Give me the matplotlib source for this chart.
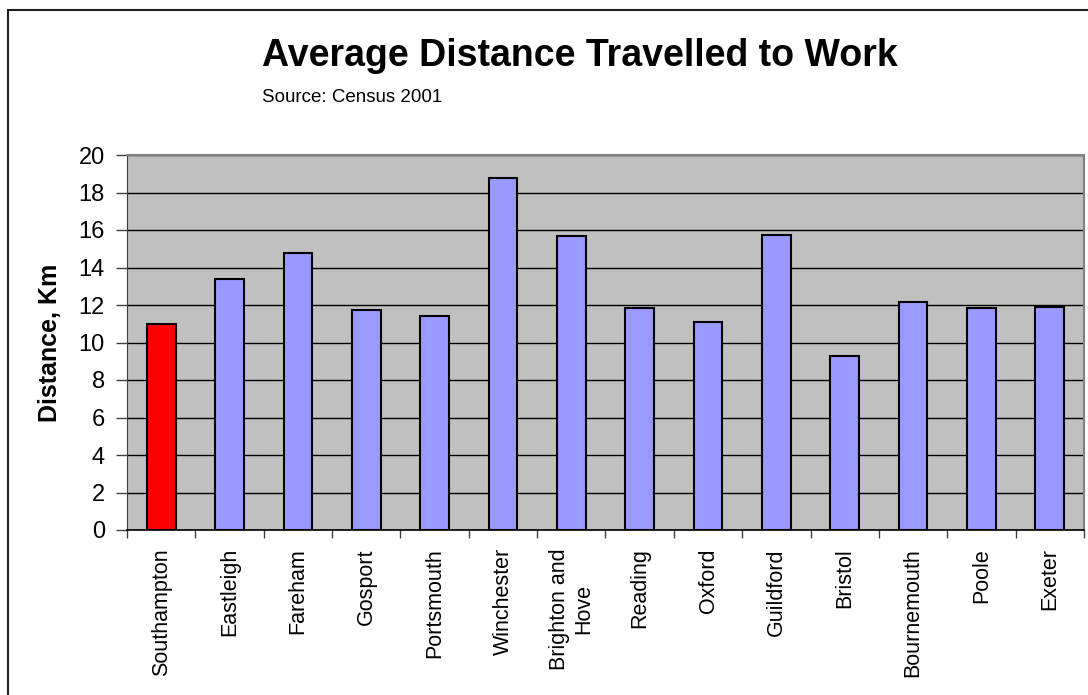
import numpy as np
import matplotlib.pyplot as plt
from matplotlib.patches import Rectangle

plt.rcParams['font.family'] = ['Liberation Sans', 'DejaVu Sans']

# data
towns = ['Southampton', 'Eastleigh', 'Fareham', 'Gosport', 'Portsmouth',
         'Winchester', 'Brighton and\nHove', 'Reading', 'Oxford', 'Guildford',
         'Bristol', 'Bournemouth', 'Poole', 'Exeter']
distance_km = [11.0, 13.4, 14.75, 11.75, 11.4, 18.8, 15.7,
               11.85, 11.1, 15.75, 9.3, 12.15, 11.85, 11.9]
highlight = 'Southampton'

W, H = 1088, 695
fig = plt.figure(figsize=(W / 100, H / 100), dpi=100)
ax = fig.add_axes([127 / W, 1 - 530 / H, (1084 - 127) / W, (530 - 155) / H])

# outer chart border (right and bottom edges run off the image)
fig.patches.append(Rectangle((8 / W, -0.05), 1.2, 1 - 10 / H + 0.05,
                             transform=fig.transFigure, fill=False,
                             edgecolor='#202020', linewidth=1.5, clip_on=False))

x = np.arange(len(towns))
colors = ['#FF0000' if t == highlight else '#9999FF' for t in towns]
ax.bar(x, distance_km, width=0.42, color=colors, edgecolor='black',
       linewidth=1.5, zorder=3)

ax.set_facecolor('#C0C0C0')
ax.set_xlim(-0.5, len(towns) - 0.5)
ax.set_ylim(0, 20)
ax.set_yticks(np.arange(0, 21, 2))
ax.yaxis.grid(True, color='black', linewidth=1.0, zorder=1)
ax.set_axisbelow(True)

# category labels at centres, tick marks on boundaries
ax.set_xticks(x)
ax.set_xticklabels(towns, rotation=90, fontsize=15.5, va='top', ha='center',
                   multialignment='center')
ax.tick_params(axis='x', which='major', length=0, pad=13)
ax.set_xticks(np.arange(-0.5, len(towns), 1), minor=True)
ax.tick_params(axis='x', which='minor', length=6, width=1, color='#404040')
ax.tick_params(axis='y', length=8, width=1, color='#404040', labelsize=17, pad=8)

for side in ['top', 'right']:
    ax.spines[side].set_color('#808080')
    ax.spines[side].set_linewidth(1.5)
ax.spines['left'].set_color('#404040')
ax.spines['bottom'].set_color('black')
ax.spines['bottom'].set_linewidth(1.2)

ax.set_ylabel('Distance, Km', fontsize=18, fontweight='bold', labelpad=12)

fig.text(580 / W, 1 - 56 / H, 'Average Distance Travelled to Work',
         fontsize=27, fontweight='bold', ha='center', va='center')
fig.text(262 / W, 1 - 97 / H, 'Source: Census 2001', fontsize=13.5,
         ha='left', va='center')

fig.savefig('out.png', dpi=100)
